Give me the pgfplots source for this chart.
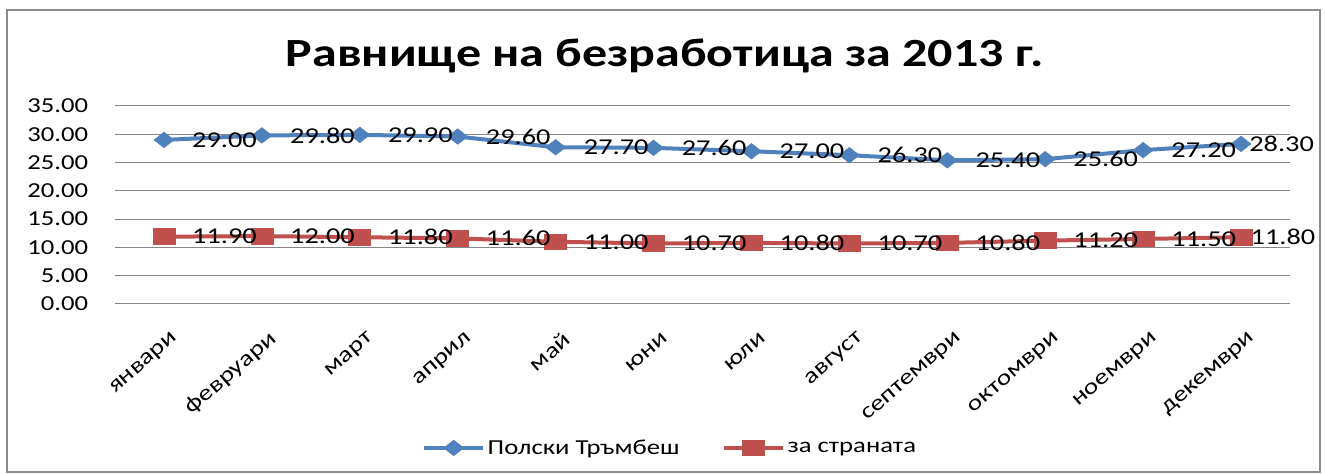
\documentclass[border=0pt]{standalone}
\usepackage{pgfplots}
\pgfplotsset{compat=1.18}
\usepackage{fontspec}
\setmainfont{Carlito}[FakeStretch=1.25, Language=Bulgarian]
\definecolor{sblue}{HTML}{4F81BD}
\definecolor{sred}{HTML}{C0504D}
\definecolor{gridc}{HTML}{868686}
\begin{document}
\begin{tikzpicture}
\useasboundingbox (0,0) rectangle (993.75pt,355.5pt);
\draw[line width=1.5pt, color=black!45] (5.25pt,1.5pt) rectangle (990pt,348pt);
\node[anchor=base, font=\bfseries\fontsize{30}{35}\selectfont] at (498.75pt,305.5pt) {Равнище на безработица за 2013 г.};
\begin{axis}[
  at={(86.25pt,127.5pt)}, anchor=south west,
  width=881.25pt, height=148.5pt, scale only axis,
  xmin=-0.5, xmax=11.5, ymin=0, ymax=35,
  ytick={0,5,...,35},
  xtick={0,...,11},
  xticklabels={январи,февруари,март,април,май,юни,юли,август,септември,октомври,ноември,декември},
  axis line style={draw=none},
  major tick length=0pt,
  ymajorgrids, grid style={color=gridc, line width=0.75pt},
  /pgf/number format/fixed, /pgf/number format/fixed zerofill,
  /pgf/number format/precision=2, /pgf/number format/assume math mode=true,
  yticklabel style={anchor=east, inner sep=0pt, xshift=-20pt, font=\fontsize{16}{18}\selectfont},
  xticklabel style={rotate=41, anchor=east, inner sep=0pt, yshift=-24pt, xshift=-9pt, font=\fontsize{16.5}{19}\selectfont},
  legend style={at={(0.258,-0.727)}, anchor=west, draw=none, fill=none, legend columns=2,
    font=\fontsize{16}{19}\selectfont, /tikz/every even column/.append style={column sep=30pt}},
  legend image code/.code={\draw[mark repeat=2, mark phase=2, #1] plot coordinates {(0pt,0pt)(22pt,0pt)(44pt,0pt)};},
  clip=false,
]
\addplot[sblue, line width=3pt, mark=diamond*, mark size=5.8pt, mark options={xscale=1.7, line width=0.5pt, solid, fill=sblue}]
  coordinates {(0,29.0)(1,29.8)(2,29.9)(3,29.6)(4,27.7)(5,27.6)(6,27.0)(7,26.3)(8,25.4)(9,25.6)(10,27.2)(11,28.3)};
\addlegendentry{Полски Тръмбеш}
\addplot[sred, line width=3pt, mark=square*, mark size=5.9pt, mark options={xscale=1.4, line width=0.5pt, solid, fill=sred}]
  coordinates {(0,11.9)(1,12.0)(2,11.8)(3,11.6)(4,11.0)(5,10.7)(6,10.8)(7,10.7)(8,10.8)(9,11.2)(10,11.5)(11,11.8)};
\addlegendentry{за страната}
% data labels
\addplot[draw=none, mark=none, forget plot, nodes near coords, point meta=y, nodes near coords align=horizontal,
  every node near coord/.append style={anchor=west, inner sep=0pt, xshift=21pt, font=\fontsize{17}{20}\selectfont, black}]
  coordinates {(0,29.0)(1,29.8)(2,29.9)(3,29.6)(4,27.7)(5,27.6)(6,27.0)(7,26.3)(8,25.4)(9,25.6)(10,27.2)};
\addplot[draw=none, mark=none, forget plot, nodes near coords, point meta=y, nodes near coords align=horizontal,
  every node near coord/.append style={anchor=west, inner sep=0pt, xshift=6pt, font=\fontsize{17}{20}\selectfont, black}]
  coordinates {(11,28.3)};
\addplot[draw=none, mark=none, forget plot, nodes near coords, point meta=y, nodes near coords align=horizontal,
  every node near coord/.append style={anchor=west, inner sep=0pt, xshift=21pt, font=\fontsize{17}{20}\selectfont, black}]
  coordinates {(0,11.9)(1,12.0)(2,11.8)(3,11.6)(4,11.0)(5,10.7)(6,10.8)(7,10.7)(8,10.8)(9,11.2)(10,11.5)};
\addplot[draw=none, mark=none, forget plot, nodes near coords, point meta=y, nodes near coords align=horizontal,
  every node near coord/.append style={anchor=west, inner sep=0pt, xshift=7pt, font=\fontsize{17}{20}\selectfont, black}]
  coordinates {(11,11.8)};
\end{axis}
\end{tikzpicture}
\end{document}
